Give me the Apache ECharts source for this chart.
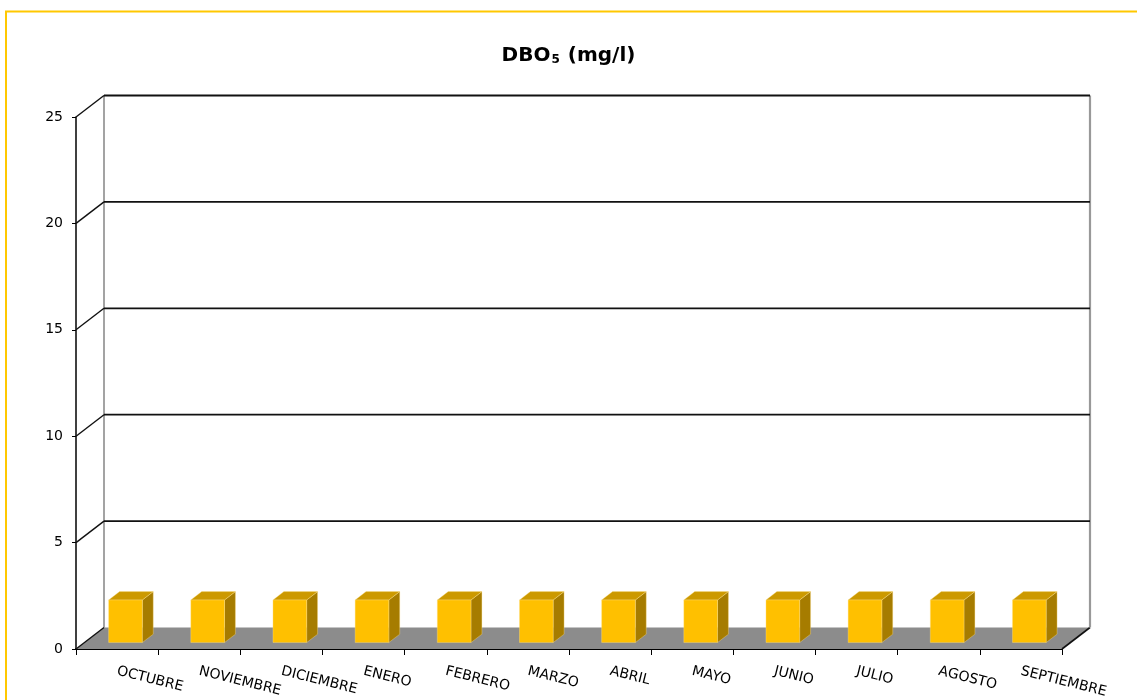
<!DOCTYPE html>
<html>
<head>
<meta charset="utf-8">
<script src="https://cdn.jsdelivr.net/npm/echarts@6/dist/echarts.min.js"></script>
<style>
  html, body { margin: 0; padding: 0; background: #ffffff; }
  #chart { width: 1137px; height: 700px; }
</style>
</head>
<body>
<div id="chart"></div>
<script>
// Monthly DBO5 readings (mg/l), October to September
const months = ['OCTUBRE', 'NOVIEMBRE', 'DICIEMBRE', 'ENERO', 'FEBRERO', 'MARZO',
                'ABRIL', 'MAYO', 'JUNIO', 'JULIO', 'AGOSTO', 'SEPTIEMBRE'];
const dbo5 = [2, 2, 2, 2, 2, 2, 2, 2, 2, 2, 2, 2];
const yTicks = [0, 5, 10, 15, 20, 25];

// Pseudo-3D depth of the plot box (offset of the back wall from the front plane)
const DEPTH_X = 28;
const DEPTH_Y = -21.5;
// Bar sits between these fractions of the box depth
const BAR_D0 = 0.3;
const BAR_D1 = 0.69;
const BAR_WIDTH_RATIO = 0.41;

const chart = echarts.init(document.getElementById('chart'));

// Back wall, floor and gridlines, one item per value-axis tick
function renderWalls(params, api) {
  const cs = params.coordSys;
  const v = api.value(0);
  const y = api.coord([0, v])[1];
  const gx = cs.x, gw = cs.width;
  const children = [];
  const yTop = api.coord([0, yTicks[yTicks.length - 1]])[1];
  const yZero = api.coord([0, 0])[1];

  if (v === 0) {
    // floor
    children.push({
      type: 'polygon',
      shape: { points: [[gx, y], [gx + gw, y], [gx + gw + DEPTH_X, y + DEPTH_Y], [gx + DEPTH_X, y + DEPTH_Y]] },
      style: { fill: '#8c8c8c', stroke: null }
    });
    // right diagonal of the floor
    children.push({
      type: 'line',
      shape: { x1: gx + gw, y1: y, x2: gx + gw + DEPTH_X, y2: y + DEPTH_Y },
      style: { stroke: '#111', lineWidth: 1.6 }
    });
    // back wall vertical edges
    children.push({
      type: 'line',
      shape: { x1: gx + DEPTH_X, y1: yTop + DEPTH_Y, x2: gx + DEPTH_X, y2: yZero + DEPTH_Y },
      style: { stroke: '#999', lineWidth: 1.8 }
    });
    children.push({
      type: 'line',
      shape: { x1: gx + gw + DEPTH_X, y1: yTop + DEPTH_Y, x2: gx + gw + DEPTH_X, y2: yZero + DEPTH_Y },
      style: { stroke: '#999', lineWidth: 2.2 }
    });
  } else {
    // horizontal gridline on the back wall
    children.push({
      type: 'line',
      shape: { x1: gx + DEPTH_X, y1: y + DEPTH_Y, x2: gx + gw + DEPTH_X, y2: y + DEPTH_Y },
      style: { stroke: '#111', lineWidth: 1.8 }
    });
  }
  // diagonal on the left side wall
  children.push({
    type: 'line',
    shape: { x1: gx, y1: y, x2: gx + DEPTH_X, y2: y + DEPTH_Y },
    style: { stroke: '#111', lineWidth: 1.4 }
  });
  return { type: 'group', children: children };
}

// 3D-looking bar: front, top and right faces
function renderBar(params, api) {
  const idx = api.value(0);
  const val = api.value(1);
  const top = api.coord([idx, val]);
  const base = api.coord([idx, 0]);
  const bw = api.size([1, 0])[0] * BAR_WIDTH_RATIO;
  const ox = DEPTH_X * BAR_D0, oy = DEPTH_Y * BAR_D0;
  const dx = DEPTH_X * (BAR_D1 - BAR_D0), dy = DEPTH_Y * (BAR_D1 - BAR_D0);
  const x0 = top[0] - bw / 2 + ox, x1 = top[0] + bw / 2 + ox;
  const yt = top[1] + oy, yb = base[1] + oy;
  const edge = 'rgba(255,225,140,0.7)';
  return {
    type: 'group',
    children: [
      {
        type: 'polygon',
        shape: { points: [[x1, yt], [x1 + dx, yt + dy], [x1 + dx, yb + dy], [x1, yb]] },
        style: { fill: '#a67c00', stroke: edge, lineWidth: 0.5 }
      },
      {
        type: 'polygon',
        shape: { points: [[x0, yt], [x0 + dx, yt + dy], [x1 + dx, yt + dy], [x1, yt]] },
        style: { fill: '#cc9900', stroke: edge, lineWidth: 0.5 }
      },
      {
        type: 'rect',
        shape: { x: x0, y: yt, width: x1 - x0, height: yb - yt },
        style: { fill: '#ffc000', stroke: edge, lineWidth: 0.5 }
      }
    ]
  };
}

chart.setOption({
  animation: false,
  backgroundColor: '#ffffff',
  title: {
    text: '{b|DBO}{s|5}{b| (mg/l)}',
    left: 'center',
    top: 41,
    textStyle: {
      rich: {
        b: { fontFamily: 'DejaVu Sans', fontWeight: 'bold', fontSize: 20, color: '#000' },
        s: { fontFamily: 'DejaVu Sans', fontWeight: 'bold', fontSize: 12, color: '#000', padding: [8, 1, 0, 1] }
      }
    }
  },
  graphic: [{
    type: 'rect',
    shape: { x: 6, y: 11.5, width: 1150, height: 720 },
    style: { fill: null, stroke: '#ffc800', lineWidth: 2 },
    z: 100
  }],
  grid: { left: 76, top: 117, width: 986, height: 532, containLabel: false },
  xAxis: {
    type: 'category',
    data: months,
    boundaryGap: true,
    axisLine: { show: true, lineStyle: { color: '#000', width: 1.8 } },
    axisTick: { show: true, inside: false, length: 6, lineStyle: { color: '#000' } },
    axisLabel: {
      interval: 0,
      rotate: -14,
      margin: 22,
      fontFamily: 'DejaVu Sans',
      fontSize: 14,
      color: '#000'
    },
    splitLine: { show: false }
  },
  yAxis: {
    type: 'value',
    min: 0,
    max: 25,
    interval: 5,
    axisLine: { show: true, lineStyle: { color: '#000', width: 1.5 } },
    axisTick: { show: true, length: 4, lineStyle: { color: '#000' } },
    axisLabel: { margin: 13, fontFamily: 'DejaVu Sans', fontSize: 14, color: '#000' },
    splitLine: { show: false }
  },
  series: [
    {
      type: 'custom',
      renderItem: renderWalls,
      data: yTicks.map(v => [v]),
      encode: { y: 0 },
      silent: true,
      z: 1
    },
    {
      type: 'custom',
      renderItem: renderBar,
      data: dbo5.map((v, i) => [i, v]),
      encode: { x: 0, y: 1 },
      z: 3
    }
  ]
});
</script>
</body>
</html>
